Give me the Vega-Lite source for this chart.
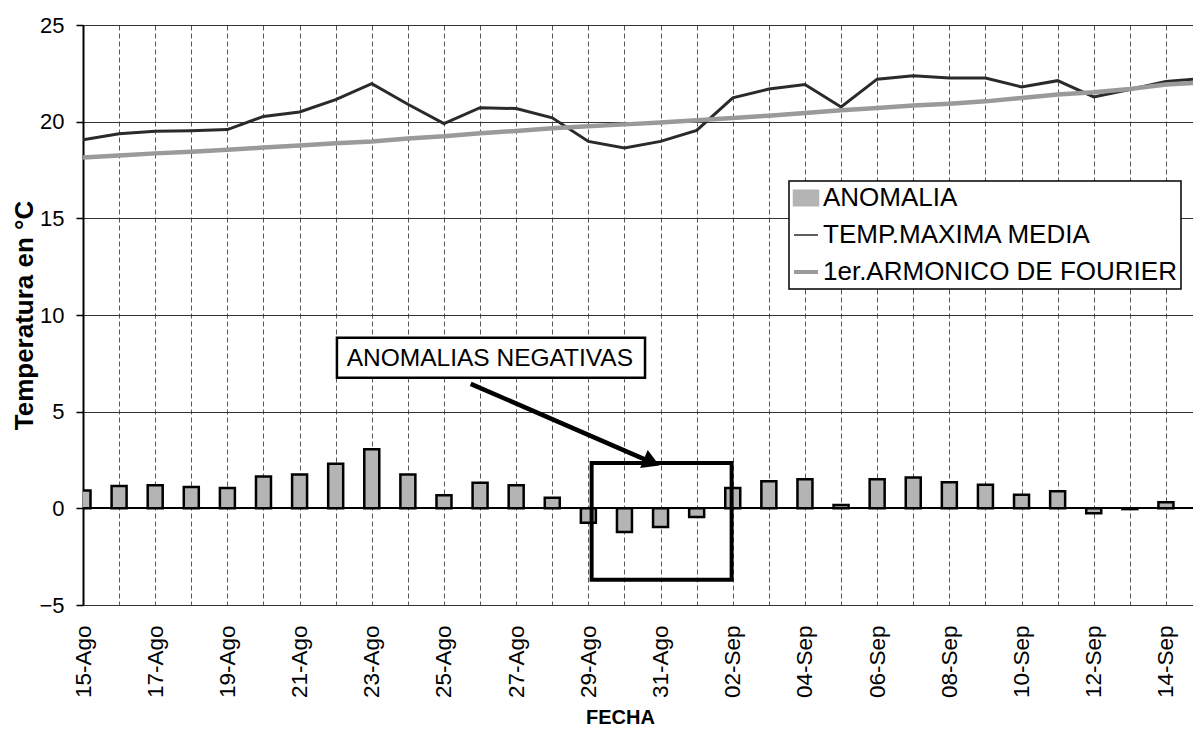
{
  "$schema": "https://vega.github.io/schema/vega-lite/v6.json",
  "width": 1110,
  "height": 580,
  "autosize": {"type": "none"},
  "padding": {"left": 83, "top": 25, "right": 0, "bottom": 129},
  "background": "#ffffff",
  "config": {
    "font": "Liberation Sans",
    "view": {"stroke": null},
    "axis": {"labelFont": "Liberation Sans", "titleFont": "Liberation Sans", "labelColor": "#000", "titleColor": "#000"},
    "legend": {"strokeWidth": 1.5}
  },
  "data": {
    "values": [
      {"fecha": "2001-08-15", "tmax": 19.07, "fourier": 18.15, "anomalia": 0.92},
      {"fecha": "2001-08-16", "tmax": 19.38, "fourier": 18.25, "anomalia": 1.15},
      {"fecha": "2001-08-17", "tmax": 19.5, "fourier": 18.36, "anomalia": 1.2},
      {"fecha": "2001-08-18", "tmax": 19.53, "fourier": 18.45, "anomalia": 1.1},
      {"fecha": "2001-08-19", "tmax": 19.59, "fourier": 18.55, "anomalia": 1.05},
      {"fecha": "2001-08-20", "tmax": 20.27, "fourier": 18.66, "anomalia": 1.65},
      {"fecha": "2001-08-21", "tmax": 20.5, "fourier": 18.77, "anomalia": 1.75},
      {"fecha": "2001-08-22", "tmax": 21.14, "fourier": 18.88, "anomalia": 2.3},
      {"fecha": "2001-08-23", "tmax": 21.97, "fourier": 18.98, "anomalia": 3.05},
      {"fecha": "2001-08-24", "tmax": 20.9, "fourier": 19.13, "anomalia": 1.75},
      {"fecha": "2001-08-25", "tmax": 19.9, "fourier": 19.24, "anomalia": 0.68},
      {"fecha": "2001-08-26", "tmax": 20.72, "fourier": 19.4, "anomalia": 1.32},
      {"fecha": "2001-08-27", "tmax": 20.68, "fourier": 19.52, "anomalia": 1.2},
      {"fecha": "2001-08-28", "tmax": 20.2, "fourier": 19.66, "anomalia": 0.55},
      {"fecha": "2001-08-29", "tmax": 18.98, "fourier": 19.76, "anomalia": -0.75},
      {"fecha": "2001-08-30", "tmax": 18.64, "fourier": 19.86, "anomalia": -1.22},
      {"fecha": "2001-08-31", "tmax": 18.98, "fourier": 19.96, "anomalia": -0.96},
      {"fecha": "2001-09-01", "tmax": 19.55, "fourier": 20.07, "anomalia": -0.45},
      {"fecha": "2001-09-02", "tmax": 21.23, "fourier": 20.19, "anomalia": 1.05},
      {"fecha": "2001-09-03", "tmax": 21.69, "fourier": 20.31, "anomalia": 1.4},
      {"fecha": "2001-09-04", "tmax": 21.92, "fourier": 20.45, "anomalia": 1.5},
      {"fecha": "2001-09-05", "tmax": 20.76, "fourier": 20.59, "anomalia": 0.17},
      {"fecha": "2001-09-06", "tmax": 22.2, "fourier": 20.71, "anomalia": 1.5},
      {"fecha": "2001-09-07", "tmax": 22.38, "fourier": 20.83, "anomalia": 1.6},
      {"fecha": "2001-09-08", "tmax": 22.26, "fourier": 20.93, "anomalia": 1.35},
      {"fecha": "2001-09-09", "tmax": 22.26, "fourier": 21.05, "anomalia": 1.22},
      {"fecha": "2001-09-10", "tmax": 21.8, "fourier": 21.23, "anomalia": 0.7},
      {"fecha": "2001-09-11", "tmax": 22.12, "fourier": 21.4, "anomalia": 0.88},
      {"fecha": "2001-09-12", "tmax": 21.28, "fourier": 21.52, "anomalia": -0.25},
      {"fecha": "2001-09-13", "tmax": 21.66, "fourier": 21.69, "anomalia": -0.04},
      {"fecha": "2001-09-14", "tmax": 22.08, "fourier": 21.92, "anomalia": 0.32},
      {"fecha": "2001-09-15", "tmax": 22.24, "fourier": 22.03, "anomalia": 0.21}
    ]
  },
  "layer": [
    {
      "mark": {"type": "rule", "color": "#000", "strokeWidth": 1.5},
      "encoding": {"y": {"datum": 0, "type": "quantitative", "title": "Temperatura en °C"}}
    },
    {
      "mark": {"type": "bar", "size": 15, "stroke": "#000", "strokeWidth": 2.5, "clip": true},
      "encoding": {
        "x": {
          "field": "fecha", "type": "temporal", "title": "FECHA",
          "scale": {"type": "utc", "padding": 0, "domain": [{"year": 2001, "month": 8, "date": 15, "utc": true}, {"year": 2001, "month": 9, "date": 14, "hours": 18, "utc": true}]},
          "axis": {
            "tickCount": {"interval": "day", "step": 1},
            "labelExpr": "round((datum.value - utc(2001,7,15)) / 86400000) % 2 == 0 ? utcFormat(datum.value, '%d') + '-' + (utcmonth(datum.value) == 7 ? 'Ago' : 'Sep') : ''",
            "labelAngle": 270, "labelFontSize": 22.5, "labelPadding": 20, "labelOverlap": false, "labelFlush": false,
            "ticks": false, "tickSize": 0, "domain": false,
            "grid": true, "gridColor": "#555", "gridDash": [5, 3], "gridWidth": 1,
            "titleFontSize": 20, "titleFontWeight": "bold", "titlePadding": 10, "titleX": 537
          }
        },
        "y": {
          "field": "anomalia", "type": "quantitative", "title": "Temperatura en °C",
          "scale": {"domain": [-5, 25], "nice": false, "zero": false},
          "axis": {
            "values": [-5, 0, 5, 10, 15, 20, 25], "labelFontSize": 22, "labelPadding": 12,
            "tickSize": 7, "tickColor": "#000", "tickWidth": 1.5, "domainColor": "#000", "domainWidth": 2,
            "grid": true, "gridColor": "#333", "gridWidth": 1,
            "titleFontSize": 26, "titleFontWeight": "bold", "titlePadding": 1
          }
        },
        "y2": {"datum": 0},
        "color": {
          "datum": "ANOMALIA", "type": "nominal",
          "scale": {"domain": ["ANOMALIA", "TEMP.MAXIMA MEDIA", "1er.ARMONICO DE FOURIER"], "range": ["#b4b4b4", "#2a2a2a", "#9a9a9a"]},
          "legend": {
            "orient": "none", "legendX": 706, "legendY": 156, "title": null,
            "labelFontSize": 26, "labelFont": "Liberation Sans", "labelColor": "#000", "labelOffset": 4, "labelLimit": 600,
            "padding": 4, "rowPadding": 11, "strokeColor": "#000", "fillColor": "#ffffff",
            "symbolSize": 576, "symbolStrokeColor": "#000", "symbolStrokeWidth": 2.5,
            "encode": {
              "symbols": {
                "update": {
                  "shape": {"signal": "datum.value === 'ANOMALIA' ? 'M-1,-0.6H1V0.6H-1Z' : 'M-1,0H1'"},
                  "fill": {"signal": "datum.value === 'ANOMALIA' ? '#b0b0b0' : 'transparent'"},
                  "stroke": {"signal": "datum.value === 'ANOMALIA' ? '#000000' : datum.value === 'TEMP.MAXIMA MEDIA' ? '#222222' : '#999999'"},
                  "strokeWidth": {"signal": "datum.value === 'ANOMALIA' ? 2.5 : datum.value === 'TEMP.MAXIMA MEDIA' ? 1.5 : 4"},
                  "opacity": {"value": 1},
                  "strokeOpacity": {"value": 1},
                  "fillOpacity": {"value": 1}
                }
              }
            }
          }
        }
      }
    },
    {
      "mark": {"type": "line", "strokeWidth": 3, "clip": true},
      "encoding": {
        "x": {"field": "fecha", "type": "temporal", "title": "FECHA", "scale": {"type": "utc", "padding": 0, "domain": [{"year": 2001, "month": 8, "date": 15, "utc": true}, {"year": 2001, "month": 9, "date": 14, "hours": 18, "utc": true}]}},
        "y": {"field": "tmax", "type": "quantitative", "title": "Temperatura en °C"},
        "color": {
          "datum": "TEMP.MAXIMA MEDIA", "type": "nominal",
          "legend": {
            "orient": "none", "legendX": 706, "legendY": 156, "title": null,
            "labelFontSize": 26, "labelFont": "Liberation Sans", "labelColor": "#000", "labelOffset": 4, "labelLimit": 600,
            "padding": 4, "rowPadding": 11, "strokeColor": "#000", "fillColor": "#ffffff",
            "symbolSize": 576, "symbolStrokeColor": "#000", "symbolStrokeWidth": 2.5,
            "encode": {
              "symbols": {
                "update": {
                  "shape": {"signal": "datum.value === 'ANOMALIA' ? 'M-1,-0.6H1V0.6H-1Z' : 'M-1,0H1'"},
                  "fill": {"signal": "datum.value === 'ANOMALIA' ? '#b0b0b0' : 'transparent'"},
                  "stroke": {"signal": "datum.value === 'ANOMALIA' ? '#000000' : datum.value === 'TEMP.MAXIMA MEDIA' ? '#222222' : '#999999'"},
                  "strokeWidth": {"signal": "datum.value === 'ANOMALIA' ? 2.5 : datum.value === 'TEMP.MAXIMA MEDIA' ? 1.5 : 4"},
                  "opacity": {"value": 1},
                  "strokeOpacity": {"value": 1},
                  "fillOpacity": {"value": 1}
                }
              }
            }
          }
        }
      }
    },
    {
      "mark": {"type": "line", "strokeWidth": 4.5, "clip": true},
      "encoding": {
        "x": {"field": "fecha", "type": "temporal", "title": "FECHA", "scale": {"type": "utc", "padding": 0, "domain": [{"year": 2001, "month": 8, "date": 15, "utc": true}, {"year": 2001, "month": 9, "date": 14, "hours": 18, "utc": true}]}},
        "y": {"field": "fourier", "type": "quantitative", "title": "Temperatura en °C"},
        "color": {
          "datum": "1er.ARMONICO DE FOURIER", "type": "nominal",
          "legend": {
            "orient": "none", "legendX": 706, "legendY": 156, "title": null,
            "labelFontSize": 26, "labelFont": "Liberation Sans", "labelColor": "#000", "labelOffset": 4, "labelLimit": 600,
            "padding": 4, "rowPadding": 11, "strokeColor": "#000", "fillColor": "#ffffff",
            "symbolSize": 576, "symbolStrokeColor": "#000", "symbolStrokeWidth": 2.5,
            "encode": {
              "symbols": {
                "update": {
                  "shape": {"signal": "datum.value === 'ANOMALIA' ? 'M-1,-0.6H1V0.6H-1Z' : 'M-1,0H1'"},
                  "fill": {"signal": "datum.value === 'ANOMALIA' ? '#b0b0b0' : 'transparent'"},
                  "stroke": {"signal": "datum.value === 'ANOMALIA' ? '#000000' : datum.value === 'TEMP.MAXIMA MEDIA' ? '#222222' : '#999999'"},
                  "strokeWidth": {"signal": "datum.value === 'ANOMALIA' ? 2.5 : datum.value === 'TEMP.MAXIMA MEDIA' ? 1.5 : 4"},
                  "opacity": {"value": 1},
                  "strokeOpacity": {"value": 1},
                  "fillOpacity": {"value": 1}
                }
              }
            }
          }
        }
      }
    },
    {
      "data": {"values": [{"inicio": "2001-08-29T02:10:00Z", "fin": "2001-09-01T23:15:00Z", "sup": 2.35, "inf": -3.7}]},
      "mark": {"type": "rect", "fill": "transparent", "stroke": "#000", "strokeWidth": 4},
      "encoding": {
        "x": {"field": "inicio", "type": "temporal", "title": "FECHA"},
        "x2": {"field": "fin"},
        "y": {"field": "sup", "type": "quantitative", "title": "Temperatura en °C"},
        "y2": {"field": "inf"}
      }
    },
    {
      "data": {"values": [{"inicio": "2001-08-22T00:50:00Z", "fin": "2001-08-30T13:40:00Z", "sup": 8.82, "inf": 6.75}]},
      "mark": {"type": "rect", "fill": "#ffffff", "stroke": "#000", "strokeWidth": 2.5},
      "encoding": {
        "x": {"field": "inicio", "type": "temporal", "title": "FECHA"},
        "x2": {"field": "fin"},
        "y": {"field": "sup", "type": "quantitative", "title": "Temperatura en °C"},
        "y2": {"field": "inf"}
      }
    },
    {
      "data": {"values": [{"fecha": "2001-08-26T06:30:00Z", "valor": 7.73, "texto": "ANOMALIAS NEGATIVAS"}]},
      "mark": {"type": "text", "fontSize": 24.5, "font": "Liberation Sans", "color": "#000", "align": "center", "baseline": "middle"},
      "encoding": {
        "x": {"field": "fecha", "type": "temporal", "title": "FECHA"},
        "y": {"field": "valor", "type": "quantitative", "title": "Temperatura en °C"},
        "text": {"field": "texto"}
      }
    },
    {
      "data": {"values": [{"inicio": "2001-08-25T17:45:00Z", "fin": "2001-08-30T18:05:00Z", "sup": 6.44, "inf": 2.38}]},
      "mark": {"type": "rule", "color": "#000", "strokeWidth": 4.5},
      "encoding": {
        "x": {"field": "inicio", "type": "temporal", "title": "FECHA"},
        "x2": {"field": "fin"},
        "y": {"field": "sup", "type": "quantitative", "title": "Temperatura en °C"},
        "y2": {"field": "inf"}
      }
    },
    {
      "data": {"values": [{"fecha": "2001-08-30T18:05:00Z", "valor": 2.38}]},
      "mark": {"type": "point", "shape": "triangle-right", "filled": true, "color": "#000", "opacity": 1, "size": 380, "angle": 23},
      "encoding": {
        "x": {"field": "fecha", "type": "temporal", "title": "FECHA"},
        "y": {"field": "valor", "type": "quantitative", "title": "Temperatura en °C"}
      }
    }
  ]
}
